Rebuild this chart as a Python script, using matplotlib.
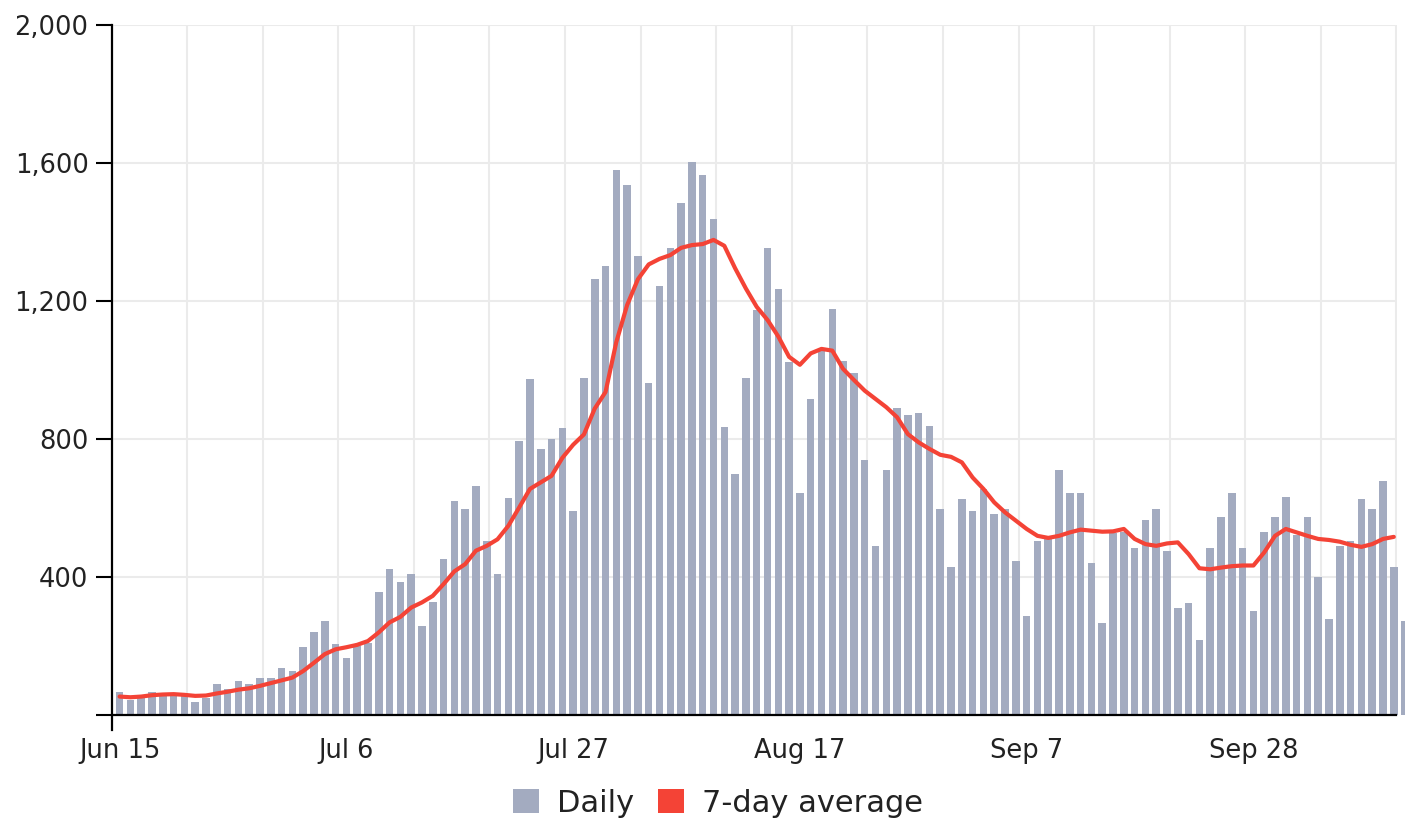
import matplotlib
matplotlib.use("Agg")
import matplotlib.pyplot as plt
from matplotlib.patches import Patch
import numpy as np

plt.rcParams['font.family'] = ['DejaVu Sans']

# Daily values, starting Jun 15
daily = [
    66, 42, 49, 66, 54, 59, 54, 37, 49, 89,
    74, 97, 88, 105, 105, 136, 126, 196, 240, 271,
    204, 165, 200, 208, 354, 421, 385, 407, 256, 325,
    452, 618, 596, 663, 504, 407, 627, 792, 973, 769,
    799, 830, 590, 975, 1262, 1300, 1579, 1534, 1330, 960,
    1241, 1353, 1482, 1602, 1565, 1436, 833, 696, 976, 1173,
    1353, 1233, 1021, 643, 915, 1055, 1176, 1026, 990, 739,
    489, 709, 890, 867, 874, 837, 596, 429, 625, 589,
    654, 580, 596, 445, 286, 504, 510, 709, 641, 641,
    438, 264, 525, 530, 482, 565, 596, 475, 308, 324,
    217, 482, 572, 641, 482, 300, 528, 572, 632, 520,
    572, 399, 278, 489, 504, 625, 596, 678, 429, 270,
]

# 7-day average
avg7 = [
    52, 50, 52, 56, 58, 59, 57, 54, 55, 61,
    66, 72, 76, 83, 91, 99, 107, 126, 150, 175,
    189, 195, 202, 213, 238, 267, 283, 310, 325, 344,
    378, 415, 436, 475, 489, 508, 547, 600, 654, 673,
    692, 744, 782, 812, 887, 935, 1080, 1187, 1262, 1305,
    1321, 1332, 1353, 1361, 1364, 1376, 1359, 1294, 1235, 1182,
    1144, 1096, 1037, 1014, 1047, 1060, 1055, 1002, 970, 939,
    915, 891, 862, 813, 789, 770, 753, 747, 731, 687,
    654, 615, 586, 562, 538, 518, 512, 518, 528, 536,
    533, 530, 531, 538, 509, 494, 489, 496, 499, 465,
    424, 421, 426, 430, 432, 432, 470, 518, 538, 528,
    518, 509, 506, 501, 492, 486, 494, 509, 515,
]

date_labels = ['Jun 15', 'Jul 6', 'Jul 27', 'Aug 17', 'Sep 7', 'Sep 28']
date_label_days = [0, 21, 42, 63, 84, 105]
y_ticks = [0, 400, 800, 1200, 1600, 2000]
y_tick_labels = ['', '400', '800', '1,200', '1,600', '2,000']

BAR_COLOR = '#a3abc0'
LINE_COLOR = '#f44336'
GRID_COLOR = '#ebebeb'
TEXT_COLOR = '#222222'

W, H = 1405, 822
fig = plt.figure(figsize=(W / 100, H / 100), dpi=100)
ax = fig.add_axes([111.5 / W, 107.5 / H, 1285 / W, 689.8 / H])

off = 0.75
xd = np.arange(len(daily)) + off
xa = np.arange(len(avg7)) + off

ax.bar(xd, daily, width=0.7, color=BAR_COLOR, zorder=2, clip_on=False)
ax.plot(xa, avg7, color=LINE_COLOR, lw=3, zorder=3,
        solid_capstyle='round', solid_joinstyle='round', clip_on=False)

ax.set_xlim(0, 119)
ax.set_ylim(0, 2000)

# weekly grid (minor ticks), labels at major ticks
ax.set_xticks(np.arange(7, 120, 7), minor=True)
ax.set_xticks(np.array(date_label_days) + off)
ax.set_xticklabels(date_labels)
ax.tick_params(axis='x', which='both', length=0, pad=17,
               labelsize=18.5, labelcolor=TEXT_COLOR)
ax.grid(axis='x', which='minor', color=GRID_COLOR, lw=1.5, zorder=0)

ax.set_yticks(y_ticks)
ax.set_yticklabels(y_tick_labels)
ax.tick_params(axis='y', length=11.5, width=1.5, pad=5,
               labelsize=18.5, labelcolor=TEXT_COLOR, color='black')
ax.grid(axis='y', color=GRID_COLOR, lw=1.5, zorder=0)
ax.set_axisbelow(True)

for s in ['top', 'right']:
    ax.spines[s].set_visible(False)
for s in ['left', 'bottom']:
    ax.spines[s].set_linewidth(1.6)
    ax.spines[s].set_color('black')
    ax.spines[s].set_zorder(4)
ax.spines['left'].set_bounds(-45, 2000)

handles = [Patch(facecolor=BAR_COLOR, label='Daily'),
           Patch(facecolor=LINE_COLOR, label='7-day average')]
leg = fig.legend(handles=handles, loc='center',
                 bbox_to_anchor=(718 / W, 1 - 803 / H), ncol=2, frameon=False,
                 fontsize=22, handlelength=0.84, handleheight=0.84,
                 handletextpad=0.58, columnspacing=0.8, borderpad=0)
for t in leg.get_texts():
    t.set_color(TEXT_COLOR)

fig.savefig('out.png', dpi=100)
